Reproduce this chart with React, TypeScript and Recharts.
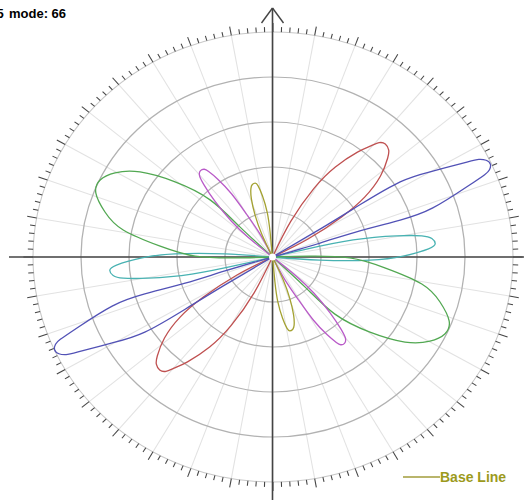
import React from 'react';
import {
  LineChart,
  Line,
  XAxis,
  YAxis,
  ReferenceLine,
  ReferenceDot,
  RadarChart,
  PolarGrid,
  PolarAngleAxis,
} from 'recharts';

// ---------- data (units: one grid ring = 1) ----------
const origin: [number, number] = [0, 0];

const blueLobeA: [number, number][] = [
  [0.99, 0.62], [1.82, 1.16], [2.66, 1.67], [3.34, 1.91], [4.05, 2.11], [4.3, 2.17],
  [4.45, 2.15], [4.54, 2.06], [4.52, 1.94], [4.42, 1.83], [4.05, 1.56], [3.34, 1.09],
  [2.66, 0.82], [1.82, 0.58], [0.99, 0.31],
];
const blueLobeB: [number, number][] = [
  [-0.99, -0.31], [-1.82, -0.58], [-2.66, -0.82], [-3.34, -1.09], [-4.05, -1.56], [-4.42, -1.83],
  [-4.52, -1.94], [-4.54, -2.06], [-4.45, -2.15], [-4.3, -2.17], [-4.05, -2.11], [-3.34, -1.91],
  [-2.66, -1.67], [-1.82, -1.16], [-0.99, -0.62],
];

const redLobeA: [number, number][] = [
  [0.38, 0.79], [0.86, 1.52], [1.31, 2.0], [1.77, 2.33], [2.05, 2.47], [2.22, 2.54],
  [2.35, 2.51], [2.42, 2.38], [2.4, 2.2], [2.25, 1.8], [1.92, 1.33], [1.44, 0.89], [0.74, 0.4],
];
const redLobeB: [number, number][] = [
  [-0.74, -0.4], [-1.44, -0.89], [-1.92, -1.33], [-2.25, -1.8], [-2.4, -2.2], [-2.42, -2.38],
  [-2.35, -2.51], [-2.22, -2.54], [-2.05, -2.47], [-1.77, -2.33], [-1.31, -2.0], [-0.86, -1.52], [-0.38, -0.79],
];

const greenLobeA: [number, number][] = [
  [-0.78, -0.02], [-1.61, 0.02], [-2.34, 0.24], [-3.11, 0.6], [-3.49, 1.0], [-3.68, 1.42],
  [-3.59, 1.71], [-3.28, 1.87], [-2.76, 1.89], [-2.03, 1.67], [-1.3, 1.27], [-0.68, 0.67],
];
const greenLobeB: [number, number][] = [
  [0.68, -0.67], [1.3, -1.27], [2.03, -1.67], [2.76, -1.89], [3.28, -1.87], [3.59, -1.71],
  [3.68, -1.42], [3.49, -1.0], [3.11, -0.6], [2.34, -0.24], [1.61, -0.02], [0.78, 0.02],
];

const magentaLobeA: [number, number][] = [
  [-0.49, 0.42], [-0.86, 0.8], [-1.2, 1.24], [-1.43, 1.61], [-1.52, 1.81], [-1.5, 1.92],
  [-1.42, 1.95], [-1.33, 1.9], [-1.14, 1.73], [-0.85, 1.4], [-0.54, 0.95], [-0.25, 0.49],
];
const magentaLobeB: [number, number][] = [
  [0.25, -0.49], [0.54, -0.95], [0.85, -1.4], [1.14, -1.73], [1.33, -1.9], [1.42, -1.95],
  [1.5, -1.92], [1.52, -1.81], [1.43, -1.61], [1.2, -1.24], [0.86, -0.8], [0.49, -0.42],
];

const oliveLobeA: [number, number][] = [
  [-0.22, 0.5], [-0.36, 0.92], [-0.44, 1.29], [-0.45, 1.52], [-0.42, 1.61],
  [-0.36, 1.64], [-0.3, 1.58], [-0.21, 1.36], [-0.11, 0.99], [-0.05, 0.55],
];
const oliveLobeB: [number, number][] = [
  [0.05, -0.55], [0.11, -0.99], [0.21, -1.36], [0.3, -1.58], [0.36, -1.64],
  [0.42, -1.61], [0.45, -1.52], [0.44, -1.29], [0.36, -0.92], [0.22, -0.5],
];

const tealLobeA: [number, number][] = [
  [0.64, 0.16], [1.68, 0.38], [2.59, 0.47], [3.11, 0.47], [3.32, 0.41],
  [3.39, 0.3], [3.25, 0.18], [2.72, 0.02], [2.03, -0.07], [0.99, -0.07],
];
const tealLobeB: [number, number][] = [
  [-0.99, 0.07], [-2.03, 0.07], [-2.72, -0.02], [-3.25, -0.18], [-3.39, -0.3],
  [-3.32, -0.41], [-3.11, -0.47], [-2.59, -0.47], [-1.68, -0.38], [-0.64, -0.16],
];

const ringValues = [1, 2, 3, 4];
const outerRingValue = 5;
const spokeAngles = [0, 10, 20, 30, 40, 50, 60, 70, 80, 90, 100, 110, 120, 130, 140, 150, 160, 170,
  180, 190, 200, 210, 220, 230, 240, 250, 260, 270, 280, 290, 300, 310, 320, 330, 340, 350];
const tickStepDeg = 2;
const majorEvery = 5;

const titleLead = '5';
const titleText = 'mode: 66';
const legendLabel = 'Base Line';

// ---------- build ----------
const buildSeries = (a: [number, number][], b: [number, number][]) =>
  [origin, ...a, origin, ...b, origin].map(([x, y]) => ({ x, y }));

const series = [
  { name: 'teal', color: '#48b2b2', data: buildSeries(tealLobeA, tealLobeB) },
  { name: 'green', color: '#52a852', data: buildSeries(greenLobeA, greenLobeB) },
  { name: 'magenta', color: '#b95ac8', data: buildSeries(magentaLobeA, magentaLobeB) },
  { name: 'red', color: '#bf5050', data: buildSeries(redLobeA, redLobeB) },
  { name: 'blue', color: '#5252b6', data: buildSeries(blueLobeA, blueLobeB) },
  { name: legendLabel, color: '#a4a232', data: buildSeries(oliveLobeA, oliveLobeB) },
];

const tickData = Array.from({ length: 360 / tickStepDeg }, (_, i) => ({ a: String(i * tickStepDeg) }));

// geometry
const CX = 272.5;
const CY = 257;
const PX_X = 48; // px per unit horizontally
const PX_Y = 45; // px per unit vertically
const W = 524;
const H = 500;
const R_OUT = outerRingValue * PX_Y; // 225
const BOX = 500;
const HALF = BOX / 2;

const renderTick = (props: any) => {
  const { x, y, index } = props;
  const dx = x - HALF;
  const dy = y - HALF;
  const len = Math.hypot(dx, dy) || 1;
  const ux = dx / len;
  const uy = dy / len;
  const L = index % majorEvery === 0 ? 9 : 5;
  return (
    <line
      x1={HALF + ux * R_OUT}
      y1={HALF + uy * R_OUT}
      x2={HALF + ux * (R_OUT + L)}
      y2={HALF + uy * (R_OUT + L)}
      stroke="#444"
      strokeWidth={1}
    />
  );
};

export default function App() {
  const xMin = -CX / PX_X;
  const xMax = (W - CX) / PX_X;
  const yMin = -(H - CY) / PX_Y;
  const yMax = CY / PX_Y;
  return (
    <div
      style={{
        position: 'absolute',
        left: 0,
        top: 0,
        width: W,
        height: H,
        background: '#fff',
        overflow: 'hidden',
      }}
    >
      <div
        style={{
          position: 'absolute',
          left: CX - HALF,
          top: CY - HALF,
          width: BOX,
          height: BOX,
          transform: `scaleX(${PX_X / PX_Y})`,
          transformOrigin: `${HALF}px ${HALF}px`,
        }}
      >
        <RadarChart
          width={BOX}
          height={BOX}
          data={tickData}
          cx={HALF}
          cy={HALF}
          innerRadius={0}
          outerRadius={R_OUT}
          startAngle={90}
          endAngle={-270}
          margin={{ top: 0, right: 0, bottom: 0, left: 0 }}
        >
          <PolarGrid gridType="circle" polarAngles={spokeAngles} polarRadius={[]} stroke="#e2e2e2" radialLines />
          <PolarGrid
            gridType="circle"
            polarAngles={[]}
            polarRadius={ringValues.map((v) => v * PX_Y)}
            stroke="#b2b2b2"
            strokeWidth={1.2}
            radialLines={false}
          />
          <PolarAngleAxis
            dataKey="a"
            type="category"
            axisLineType="circle"
            axisLine={{ stroke: '#c8c8c8' }}
            tickLine={false}
            tickSize={10}
            tick={renderTick}
          />
        </RadarChart>
      </div>

      <div style={{ position: 'absolute', left: 0, top: 0 }}>
        <LineChart width={W} height={H} margin={{ top: 0, right: 0, bottom: 0, left: 0 }}>
          <XAxis type="number" dataKey="x" domain={[xMin, xMax]} hide allowDataOverflow />
          <YAxis type="number" dataKey="y" domain={[yMin, yMax]} hide allowDataOverflow />
          <ReferenceLine
            segment={[{ x: (9 - CX) / PX_X, y: 0 }, { x: xMax - 0.001, y: 0 }]}
            stroke="#444"
            strokeWidth={1.6}
          />
          <ReferenceLine
            segment={[{ x: 0, y: (CY - 8) / PX_Y }, { x: 0, y: yMin + 0.001 }]}
            stroke="#444"
            strokeWidth={1.6}
          />
          <ReferenceLine
            segment={[{ x: 0, y: (CY - 8) / PX_Y }, { x: -11 / PX_X, y: (CY - 23) / PX_Y }]}
            stroke="#444"
            strokeWidth={1.4}
          />
          <ReferenceLine
            segment={[{ x: 0, y: (CY - 8) / PX_Y }, { x: 11 / PX_X, y: (CY - 23) / PX_Y }]}
            stroke="#444"
            strokeWidth={1.4}
          />
          {series.map((s) => (
            <Line
              key={s.name}
              name={s.name}
              data={s.data}
              dataKey="y"
              type="natural"
              stroke={s.color}
              strokeWidth={1.3}
              dot={false}
              activeDot={false}
              isAnimationActive={false}
            />
          ))}
          <ReferenceDot x={0} y={0} r={3.5} fill="#fff" stroke="none" />
        </LineChart>
      </div>

      <div
        style={{
          position: 'absolute',
          left: -3.5,
          top: 6,
          fontFamily: '"Liberation Sans", Arial, sans-serif',
          fontWeight: 'bold',
          fontSize: 13,
          lineHeight: '15px',
          color: '#000',
          whiteSpace: 'pre',
        }}
      >
        {titleLead}
      </div>
      <div
        style={{
          position: 'absolute',
          left: 9,
          top: 6,
          fontFamily: '"Liberation Sans", Arial, sans-serif',
          fontWeight: 'bold',
          fontSize: 13,
          lineHeight: '15px',
          color: '#000',
          whiteSpace: 'pre',
        }}
      >
        {titleText}
      </div>

      <div
        style={{
          position: 'absolute',
          left: 403,
          top: 469,
          display: 'flex',
          alignItems: 'center',
          fontFamily: '"Liberation Sans", Arial, sans-serif',
          fontWeight: 'bold',
          fontSize: 14,
          lineHeight: '16px',
          color: '#9c9a1c',
          whiteSpace: 'pre',
        }}
      >
        <span style={{ display: 'inline-block', width: 37, height: 2, background: '#b9b56c' }} />
        <span>{legendLabel}</span>
      </div>
    </div>
  );
}
